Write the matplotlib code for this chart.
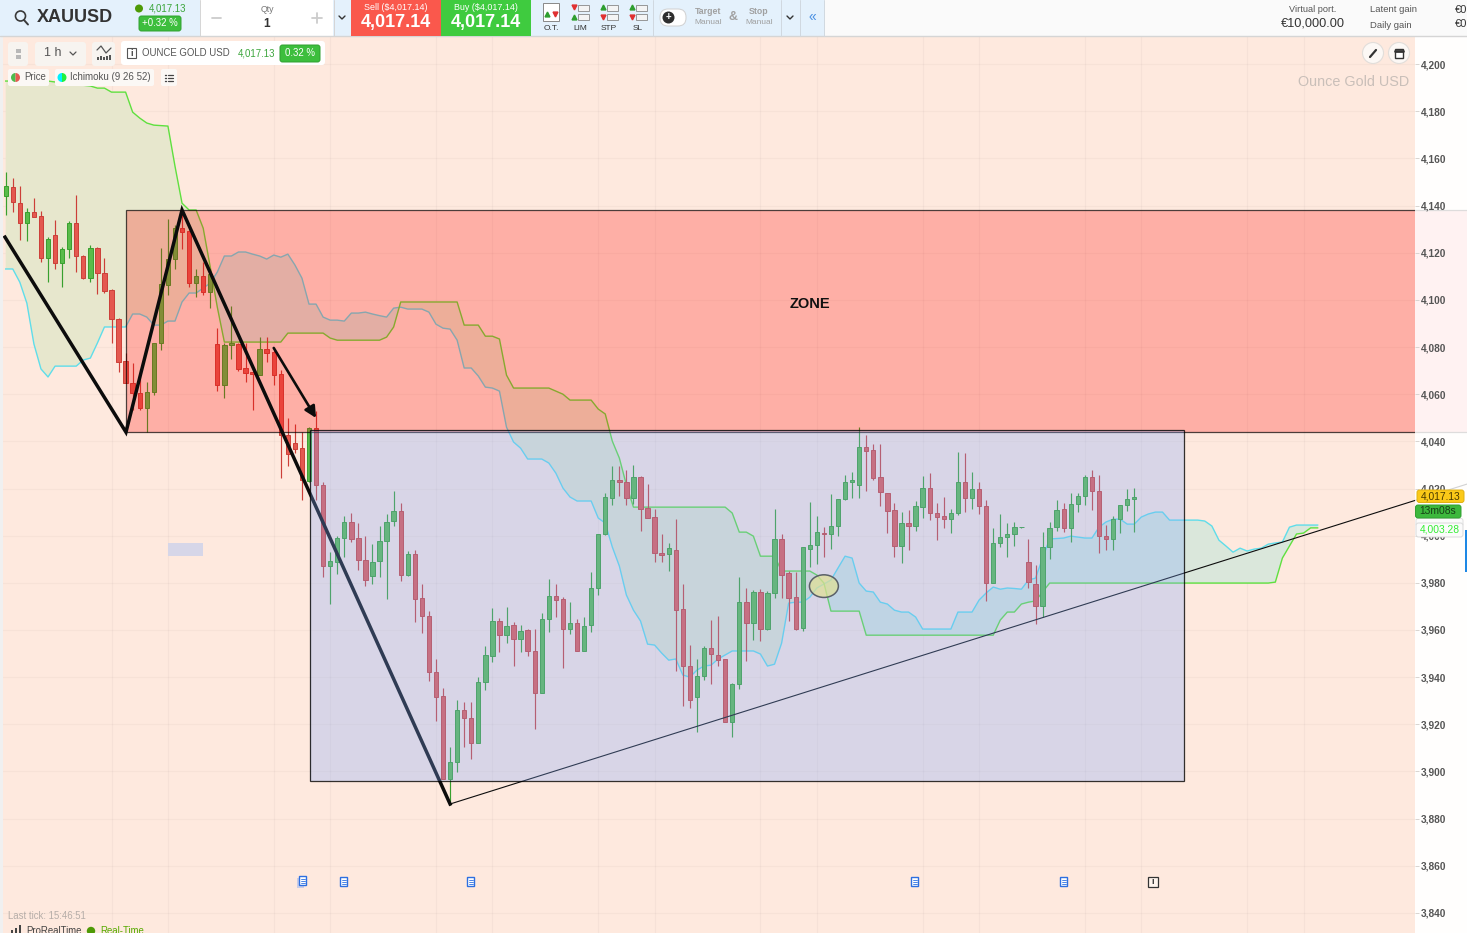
import matplotlib
matplotlib.use("Agg")
import matplotlib.pyplot as plt
from matplotlib.patches import Rectangle, Ellipse, FancyBboxPatch, Circle, Wedge
from matplotlib.ticker import FuncFormatter

plt.rcParams['font.family'] = ['Liberation Sans', 'DejaVu Sans']

# ---------------- data (USD per ounce, one entry per hourly bar) ----------------
opens = [4144.2,4148,4141.2,4132.4,4137.4,4135.5,4117.9,4127.3,4115.5,4121.4,
 4132.4,4118.6,4109.1,4121.8,4111.2,4104.1,4091.9,4074,4064.8,4060.6,
 4054,4061,4081.5,4106.3,4117.2,4130.3,4129.2,4107,4110.1,4103.2,
 4081.2,4064.1,4080.7,4081.2,4070.9,4069.2,4068.1,4079,4077.9,4068.4,
 4042.6,4039.1,4037,4023.3,4045.5,4021.7,3987.2,3988.9,3998.8,4005.9,
 3999.2,3989.5,3982.8,3989.2,3997.8,4006.3,4010.5,3983.4,3992.2,3973.4,
 3965.9,3942,3932,3896.7,3904.1,3925.9,3922.8,3912.2,3938,3949,
 3964,3957.8,3962.2,3956.3,3959.8,3950.9,3933.4,3964.5,3974.6,3973.2,
 3960.5,3962.8,3951.3,3962.1,3977.6,4000.6,4016.1,4023.6,4022.8,4016.1,
 4024.7,4011.8,4007.9,3992.7,3992.2,3994.1,3969.1,3944.8,3931.7,3940.6,
 3952.2,3949.6,3947.5,3921.1,3937.3,3972,3962.8,3976.2,3960.4,3975.8,
 3998.4,3984,3973.8,3960.9,3994.4,3996,4001.2,4000.5,4004,4015.4,
 4022.7,4021.7,4037.4,4036.3,4024.7,4018.3,4010.7,3995.6,4005.3,4004.2,
 4012.2,4020.4,4009.8,4008.3,4007,4009.7,4022.6,4015.8,4020,4012.4,
 3980,3997.1,3999.4,4000.5,4003.6,3988.9,3979.7,3970.1,3995.3,4003.5,
 4011.1,4003.3,4013.6,4017,4024.7,4019,4000,3998.4,4007,4012.8,4015.5]
highs = [4154.4,4151.5,4148.5,4138.8,4143,4137.8,4126.5,4133.8,4122.5,4133.6,
 4144.5,4119,4123.2,4122.3,4117.6,4104.4,4092.1,4077.3,4073.3,4070.5,
 4065.3,4081.5,4121.8,4134.5,4131.7,4138,4129.6,4113.3,4116.2,4113.3,
 4088.2,4081.5,4097.4,4081.8,4081.8,4069.2,4084.4,4084.4,4078.7,4070.2,
 4049.7,4047.3,4044,4046.2,4053,4022.8,3993.2,4000,4008.3,4009.8,
 4005.2,4000,3996.3,4004.2,4009.4,4019,4013.7,3993.6,3993.9,3979.7,
 3968.1,3947.9,3935.5,3910.2,3930.5,3929.3,3929.3,3939.9,3953.3,3969.4,
 3964.9,3969.8,3963.5,3962,3960.6,3960.6,3967.4,3981.6,3979.4,3974.1,
 3971.7,3964.5,3965.6,3984.4,4000.6,4017.9,4029.5,4029.5,4027.8,4029.9,
 4025.2,4022.1,4011.5,4000.6,3997.1,4006.9,3979.4,3953.6,3947.9,3953.3,
 3964.2,3966,3947.9,3937.7,3982.3,3977.9,3976.9,3977.2,3976.6,4011.5,
 4000.6,3985.1,3984.7,3995,4014.4,4008.3,4003.8,4017.5,4015.5,4025.7,
 4026.8,4045.9,4042.6,4038.8,4038.8,4018.3,4013.7,4010.1,4010.8,4014.6,
 4025.2,4026.4,4013.7,4016.2,4011.1,4035.3,4035.1,4026.8,4022.6,4015.1,
 4003.1,4009.4,4005.2,4005.9,4003.8,3998.4,3987.5,4001.4,4005.9,4015.1,
 4013.9,4017.9,4018.3,4025.7,4027.8,4025.7,4004.5,4008.3,4012.8,4020,4020.4]
lows = [4136,4137.1,4125.4,4125.1,4135.3,4116.2,4107.4,4113.3,4105.6,4117.9,
 4111.9,4108.8,4107.4,4102.4,4102.7,4081.5,4069.2,4064.8,4053.2,4053.2,
 4044,4059.6,4078.7,4102,4113,4121.4,4105.6,4101.3,4102,4096.4,
 4061.5,4058.2,4074.9,4069.9,4065,4053.5,4068,4073.5,4063.9,4024.3,
 4029.5,4034.9,4015,4022.9,4015,3982.6,3971.2,3983.7,3990.8,3997.4,
 3985.4,3978.7,3979.7,3982.6,3973.1,4004.3,3980.6,3982.8,3963.5,3958.8,
 3938.3,3921.5,3896.6,3885.7,3899.9,3910.5,3905.1,3912.2,3934.5,3946.5,
 3950.5,3954.6,3944.8,3950.5,3949,3918.2,3933.4,3959,3965.6,3944,
 3958.1,3951.2,3951.2,3959.2,3974.8,4000.2,4013.1,4016.8,4012.9,4013.4,
 4002.1,4007.6,3988.9,3988.9,3985.1,3942.7,3927.7,3927.1,3916.8,3939,
 3937.3,3944.8,3921.1,3914.7,3934.8,3947,3955.7,3955.4,3959.9,3973.4,
 3973.4,3963.9,3960.2,3959.7,3986.8,3987.9,3991,3994.3,4000,4015.1,
 4016.1,4016.1,4018.9,4023.8,4012.7,4001.2,3991,3988.6,3993.9,4001.9,
 4007.3,4006.6,3998.1,4003.1,4001.2,4008.7,4010.1,4011.5,4009.4,3972.4,
 3980,3995.3,3991,3995.6,4003.4,3977.6,3962.5,3965.6,3989.9,4002,
 4001.6,3997.4,4010.1,4013,4010.8,3992.7,3993.9,3993.9,4001.2,4010.4,4001.6]
closes = [4148.3,4141.5,4132.7,4137.4,4135.3,4117.9,4125.6,4115.5,4121.4,4132.4,
 4118.6,4109.1,4121.8,4111.2,4103.9,4091.9,4073.8,4064.8,4060.6,4054,
 4061,4081.5,4106.6,4117.2,4130.3,4128.9,4107,4110.1,4103.2,4110.8,
 4064.1,4080.8,4081.8,4070.6,4068.8,4068.7,4079,4077.6,4068.1,4042.9,
 4034.6,4036.9,4023.6,4045.5,4021.7,3987.2,3989.2,3998.8,4005.9,3998.7,
 3989.6,3981.1,3989,3997.8,4005.9,4010.5,3983.5,3992.2,3973.1,3965.9,
 3942,3931.4,3896.7,3904.1,3925.9,3922.8,3912.2,3938,3949.2,3964,
 3957.8,3961.8,3956,3959.5,3950.9,3933.4,3964.5,3974.6,3972.9,3960.5,
 3962.8,3951.2,3961.8,3977.6,4000.6,4016.2,4023.6,4022.6,4016.1,4025,
 4011.5,4007.7,3992.5,3991.9,3994.6,3968.4,3944.7,3930.5,3940.6,3952.2,
 3949.9,3947.2,3921.1,3937.3,3972,3962.8,3976.2,3960.4,3975.8,3998.4,
 3983.5,3973.6,3960.6,3995,3996.1,4001.4,4000.8,4004,4015.5,4022.8,
 4023.8,4037.4,4036,4024.5,4018.6,4010.5,3995.6,4005.2,4004.2,4012.4,
 4020.4,4009.7,4008,4007,4009.8,4022.6,4015.8,4020,4012.4,3980,
 3997.1,3999.5,4000.6,4003.8,4003.6,3980.2,3970.1,3995.3,4003.3,4010.7,
 4003.3,4013.6,4017,4024.7,4019,3999.8,3998.4,4007,4012.8,4015.5,4016.6]

span_a = ([4113.1,4113.1,4107.5,4098.6,4081.3,4070.7,4067.3] + [4071.9]*4 + [4074.5,4075.3,4081.7] + [4088.5]*4 +
 [4094,4094,4092.7,4089.3,4089.3,4091,4091,4099.1,4102.9,4102.9,4105,4107.1,4111.8,4118.6,4118.6,4120.3,4120.3,
  4119.4,4118.6,4117.3,4119,4118.1,4119.4,4114.8,4109.2,4098.2,4098.2,4092.7,4091.4,4091.4,4091,4094.4,4094.4,
  4094.8,4094,4093.3,4092.7,4096.5,4096.9] + [4096.1]*3 + [4094.8,4089.7,4088,4087.6,4082.9,4071.1,4071.1,4067.7,
  4063,4062.6,4061.3,4046,4039.7,4037.1] + [4032.5]*3 + [4030.8,4026.5,4020.2,4016.4] + [4014.7]*3 +
 [4007.5,4005.3,3995.2,3987.1,3974.8,3968.4,3963.8,3954,3953.6,3950.2,3947.2,3947.7,3940.9,3940,3943,3944.7,3945.1,
  3947.7,3949.4] + [3951.1]*4 + [3949.8,3944.7,3945.5,3954.4,3971.4,3971.8,3971.8,3973.9,3977.8,3979.5,3981.2,3986.3,
  3991.3,3990.5,3979.9,3976.5,3976.1,3971.8,3971,3968.4,3967.6,3967.6,3965.5] + [3960.4]*5 + [3967.6]*3 +
 [3972.7,3975.7,3978.2,3977.3,3977.8,3977.6,3977.3,3981.2,3982,3990.5,3998.6,3998.8,3999,3999.8,3999.4,3999,3999,
  4003.6,4005.8,4007,4007,4004.9,4004.9,4007.9,4009.2,4010,4010] + [4006.6]*5 + [4006.2,4004.1,3998.1,3995.6,3993,
  3994.7,3993.5,3994.3,3994.7,3996.4,3996.9,3997.3,4003.6] + [4004.5]*4)

span_b = ([4192.8]*7 + [4192.4,4192,4191.5,4191.2,4191,4190.7,4189.8,4189.8] + [4188.1]*3 +
 [4179.6,4177.1,4175,4174.1,4173.9,4173.7,4156.7,4141,4138.1,4138.1,4130.4,4113.9,4096.9] + [4082.1]*9 +
 [4085.9]*6 + [4083.8] + [4082.9]*7 + [4084.2,4088.5] + [4099.1]*9 + [4089.3]*3 + [4084.6,4084.6,4083.4,4068.1] +
 [4062.6]*6 + [4061.3,4060] + [4057.5]*4 + [4053.7,4051.6,4040.1,4032.9,4021.5] + [4012.1]*14 +
 [4009.6,4001.5,4001.5,3999.8] + [3991.3]*3 + [3985]*5 + [3983.3,3979.9] + [3968]*5 + [3957.8]*19 +
 [3964.2,3967.6,3967.6,3971,3971.8,3972.3,3976.1] + [3979.9]*32 + [3980.3,3990.5,3995.6,4000.7,4001.1,4003.3,4003.3])

price_ticks = list(range(3840, 4201, 20))
grid_bars = [15, 23, 38, 46, 61, 69, 84, 92, 107, 115, 130, 138, 153, 161, 176, 184]

swing_bars = [-0.1, 17.05, 25, 63]
swing_prices = [4126.6, 4043.9, 4138.1, 3886.2]
trend_bars = [63, 207.2]
trend_prices = [3886.2, 4021.9]
arrow_bars = [38, 44]
arrow_prices = [4079.6, 4049.9]
zone_bars = [17.05, 208]
zone_prices = [4043.9, 4138.1]
box_bars = [43.14, 167.04]
box_prices = [3895.9, 4044.8]
marker_bar, marker_price = 116, 3978.6

last_price = "4,017.13"; ask = "4,017.14"; change = "0.32 %"

# ---------------- figure ----------------
W, H = 1467, 933
fig = plt.figure(figsize=(W/100, H/100), dpi=100, facecolor='#FFFAF6')
ax = fig.add_axes([3/W, 0, 1412/W, (H-36)/H])
PEACH = '#FEE9DE'
ax.set_facecolor(PEACH)
ax.set_xlim(-0.383, 199.8)
ax.set_ylim(3831.5, 4211.9)
for s in ax.spines.values():
    s.set_visible(False)
ax.set_xticks([])
ax.yaxis.tick_right()
ax.set_yticks(price_ticks)
ax.yaxis.set_major_formatter(FuncFormatter(lambda v, _: f"{int(v):,}"))
ax.tick_params(axis='y', length=3, width=0.7, color='#D8D4D0', pad=1, labelsize=7.3, labelcolor='#555555')
for lab in ax.get_yticklabels():
    lab.set_fontweight('bold')
ax.yaxis.set_zorder(11)

for b in grid_bars:
    ax.axvline(b, color=(0, 0, 0, 0.03), lw=0.9, zorder=0.5)
for p in price_ticks:
    ax.axhline(p, color=(0, 0, 0, 0.028), lw=0.9, zorder=0.5)

# Ichimoku cloud
cx = list(range(len(span_a)))
ya, yb = span_a, span_b
ax.fill_between(cx, ya, yb, where=[a >= b for a, b in zip(ya, yb)], interpolate=True,
                color='#DAE7DB', lw=0, zorder=1)
ax.fill_between(cx, ya, yb, where=[a <= b for a, b in zip(ya, yb)], interpolate=True,
                color='#E7E7CD', lw=0, zorder=1)
ax.plot(cx, ya, color='#5FDDEA', lw=1.0, zorder=1.5)
ax.plot(cx, yb, color='#5FE03F', lw=1.0, zorder=1.5)

# candles
for i, (o, h, l, c) in enumerate(zip(opens, highs, lows, closes)):
    up = c >= o
    edge = '#38A02E' if up else '#CC3F38'
    fill = '#5ABB4A' if up else '#E4584F'
    ax.vlines(i, l, h, color=edge, lw=0.85, zorder=2)
    ax.add_patch(Rectangle((i-0.31, min(o, c)), 0.62, max(abs(c-o), 0.25),
                           facecolor=fill, edgecolor=edge, lw=0.7, zorder=2.1))

# zone
ax.add_patch(Rectangle((zone_bars[0], zone_prices[0]), zone_bars[1]-zone_bars[0], zone_prices[1]-zone_prices[0],
                       facecolor=(1, 0.02, 0, 0.25), edgecolor=(0, 0, 0, 0.7), lw=0.9, zorder=3, clip_on=False))
ax.text(114, 4098.2, 'ZONE', fontsize=10.5, fontweight='bold', color='#111111', ha='center', va='center', zorder=9)

# hand drawn lines
ax.plot(swing_bars, swing_prices, color='#0C0C0C', lw=2.5, zorder=4, solid_joinstyle='miter')
ax.plot(trend_bars, trend_prices, color='#0C0C0C', lw=0.8, zorder=4, clip_on=False)
ax.annotate('', xy=(arrow_bars[1], arrow_prices[1]), xytext=(arrow_bars[0], arrow_prices[0]),
            arrowprops=dict(arrowstyle='-|>', color='#0C0C0C', lw=1.9, mutation_scale=17, shrinkA=0, shrinkB=0), zorder=4)

# box
ax.add_patch(Rectangle((box_bars[0], box_prices[0]), box_bars[1]-box_bars[0], box_prices[1]-box_prices[0],
                       facecolor=(0.514, 0.667, 0.988, 0.30), edgecolor='none', zorder=5))
ax.add_patch(Rectangle((box_bars[0], box_prices[0]), box_bars[1]-box_bars[0], box_prices[1]-box_prices[0],
                       facecolor='none', edgecolor=(0, 0, 0, 0.8), lw=0.9, zorder=5.1))
ax.add_patch(Ellipse((marker_bar, marker_price), 4.1, 9.6, facecolor=(0.88, 0.88, 0.58, 0.7),
                     edgecolor='#5A6068', lw=1.1, zorder=6))

# translucent price scale strip
ax.add_patch(Rectangle((1, 0), 52/1412, 1, transform=ax.transAxes, facecolor='white', alpha=0.82,
                       edgecolor='none', clip_on=False, zorder=10))

# ---------------- interface chrome ----------------
ui = fig.add_axes([0, 0, 1, 1], zorder=20)
ui.set_xlim(0, W); ui.set_ylim(H, 0); ui.axis('off'); ui.patch.set_visible(False)

def box(x0, y0, x1, y1, color, r=0, ec='none', lw=0, z=1):
    if r:
        ui.add_patch(FancyBboxPatch((x0+r, y0+r), x1-x0-2*r, y1-y0-2*r, boxstyle=f"round,pad={r},rounding_size={r}",
                                    fc=color, ec=ec, lw=lw, zorder=z))
    else:
        ui.add_patch(Rectangle((x0, y0), x1-x0, y1-y0, fc=color, ec=ec, lw=lw, zorder=z))

def t(x, y, s, size=6.5, color='#444444', ha='left', weight='normal', z=3):
    ui.text(x, y, s, fontsize=size, color=color, ha=ha, va='center', fontweight=weight, zorder=z)

def seg(xs, ys, color='#444444', lw=1.0, z=3):
    ui.plot(xs, ys, color=color, lw=lw, zorder=z, solid_capstyle='round')

GREEN = '#3DBE3D'
box(0, 0, W, 36, '#FAFAFA', z=1)
box(0, 0, 824, 36, '#E4F1FC', z=1.1)
seg([0, W], [36, 36], '#D5D5D5', 1.0, z=2)
box(0, 36, 3, H, '#F0F0F0', z=1)

# search + symbol
ui.add_patch(Circle((20.5, 16), 5, fc='none', ec='#3A3A3A', lw=1.2, zorder=3))
seg([24, 28], [20, 24.5], '#3A3A3A', 1.4)
t(37, 17.5, 'XAUUSD', 13, '#333333', weight='bold')
ui.add_patch(Circle((139, 8.5), 4, fc='#4E9A06', ec='none', zorder=3))
t(149, 8.5, last_price, 7.0, '#3BA53B')
box(139, 16, 181, 31, GREEN, r=2.5, ec='#2FA02F', lw=0.7, z=2)
t(160, 23.5, '+' + change, 6.9, 'white', ha='center')

# quantity
box(200, 0, 333, 36, 'white', z=1.2)
seg([200, 200], [0, 36], '#D5D5D5', 0.7, z=2); seg([333.5, 333.5], [0, 36], '#D5D5D5', 0.7, z=2)
t(267, 9.5, 'Qty', 6.3, '#777777', ha='center')
t(267, 24, '1', 8.5, '#333333', ha='center', weight='bold')
seg([212, 221], [18, 18], '#CCCCCC', 1.3); seg([312, 322], [18, 18], '#CCCCCC', 1.3); seg([317, 317], [13, 23], '#CCCCCC', 1.3)
seg([339, 342, 345], [16, 19, 16], '#333333', 1.0)

# sell / buy
box(351, 0, 441, 36, '#FA584C', z=2)
t(396, 8, f'Sell (${ask})', 6.4, 'white', ha='center')
t(396, 22.5, ask, 13, 'white', ha='center', weight='bold')
box(441, 0, 531, 36, '#3FCB3F', z=2)
t(486, 8, f'Buy (${ask})', 6.4, 'white', ha='center')
t(486, 22.5, ask, 13, 'white', ha='center', weight='bold')

# order buttons
for x, lab in zip([551, 580, 609, 638], ['O.T.', 'LIM', 'STP', 'SL']):
    t(x, 28, lab, 6, '#333333', ha='center')
    if lab == 'O.T.':
        box(543, 3, 559, 21, 'white', ec='#888888', lw=0.7, z=2)
        ui.plot([547], [14], marker='^', color='#2E9E2E', ms=3.5, zorder=3)
        ui.plot([555], [14], marker='v', color='#E03030', ms=3.5, zorder=3)
    else:
        box(x-2, 5, x+9, 11, '#F4F4F4', ec='#888888', lw=0.6, z=2)
        box(x-2, 14, x+9, 20, '#F4F4F4', ec='#888888', lw=0.6, z=2)
        up_col, dn_col = ('#E03030', '#2E9E2E') if lab == 'LIM' else ('#2E9E2E', '#E03030')
        ui.plot([x-6], [7], marker='v' if lab == 'LIM' else '^', color=up_col, ms=3.5, zorder=3)
        ui.plot([x-6], [17], marker='^' if lab == 'LIM' else 'v', color=dn_col, ms=3.5, zorder=3)
seg([653, 653], [0, 36], '#D0D8E0', 0.7, z=2)

# target / stop
box(660, 9, 686, 26, 'white', r=8, ec='#D0D0D0', lw=0.7, z=2)
ui.add_patch(Circle((668.5, 17.5), 6, fc='#2E2E2E', ec='none', zorder=3))
t(668.5, 17.3, '+', 7, 'white', ha='center', weight='bold', z=4)
t(708, 12, 'Target', 6.3, '#A0A0A0', ha='center', weight='bold')
t(708, 22, 'Manual', 6, '#A0A0A0', ha='center')
t(733, 17, '&', 9, '#A0A0A0', ha='center', weight='bold')
t(759, 12, 'Stop', 6.3, '#A0A0A0', ha='center', weight='bold')
t(759, 22, 'Manual', 6, '#A0A0A0', ha='center')
seg([780.5, 780.5], [0, 36], '#D0D8E0', 0.7, z=2); seg([799.5, 799.5], [0, 36], '#D0D8E0', 0.7, z=2)
seg([787, 790, 793], [16, 19, 16], '#333333', 1.0)
t(812, 17, '\u00ab', 10, '#4A90E2', ha='center')
seg([823.5, 823.5], [0, 36], '#D0D8E0', 0.7, z=2)

# account
t(1313, 10, 'Virtual port.', 6.6, '#555555', ha='center')
t(1313, 23, '\u20ac10,000.00', 9.2, '#333333', ha='center')
t(1370, 10, 'Latent gain', 6.8, '#555555')
t(1370, 25, 'Daily gain', 6.8, '#555555')
t(1455, 10, '\u20ac0', 8, '#333333')
t(1455, 24, '\u20ac0', 8, '#333333')

# chart toolbar
box(8, 42, 28, 66, '#F7F4F0', r=3, z=2)
box(16, 49, 21, 53, '#B8B8B8', z=3); box(16, 55, 21, 59, '#B8B8B8', z=3)
box(35, 42, 86, 66, '#F7F4F0', r=3, z=2)
t(44, 53.5, '1 h', 9, '#555555')
seg([70, 73, 76], [52, 55, 52], '#555555', 0.9)
box(92, 42, 115, 66, '#F7F4F0', r=3, z=2)
seg([97, 101, 106, 111], [50, 46, 53, 48], '#555555', 0.9)
for bx, bh in zip([97, 100, 103, 106, 109], [3, 4, 3, 4, 5]):
    box(bx, 60-bh, bx+2, 60, '#555555', z=3)
box(121, 41, 325, 65, 'white', r=3, z=2)
box(127, 48, 136, 58, 'white', ec='#555555', lw=0.8, z=3)
t(131.5, 53, 'i', 6.5, '#444444', ha='center', weight='bold')
t(142, 53, 'OUNCE GOLD USD', 6.95, '#555555')
t(238, 53, last_price, 6.95, '#3BA53B')
box(280, 45, 320, 62, GREEN, r=2.5, ec='#2FA02F', lw=0.7, z=3)
t(300, 53, change, 6.9, 'white', ha='center', z=4)

# legend chips
box(8, 69, 49, 86, '#FBF8F5', r=2, z=2)
ui.add_patch(Wedge((15.5, 77.5), 4.5, 90, 270, fc='#4DBB4D', ec='none', zorder=3))
ui.add_patch(Wedge((15.5, 77.5), 4.5, 270, 90, fc='#E45A50', ec='none', zorder=3))
t(24, 77.5, 'Price', 6.9, '#555555')
box(55, 69, 154, 86, '#FBF8F5', r=2, z=2)
ui.add_patch(Wedge((62, 77.5), 4.5, 90, 270, fc='#00F0FF', ec='none', zorder=3))
ui.add_patch(Wedge((62, 77.5), 4.5, 270, 90, fc='#22F040', ec='none', zorder=3))
t(70, 77.5, 'Ichimoku (9 26 52)', 7.0, '#555555')
box(161, 69, 177, 86, '#FBF8F5', r=2, z=2)
for yy in [74.5, 77.5, 80.5]:
    seg([165, 166], [yy, yy], '#444444', 1.0); seg([168, 173], [yy, yy], '#444444', 0.9)

# top-right chart controls
for cx_ in [1373, 1399]:
    ui.add_patch(Circle((cx_, 53), 10.5, fc='#FCF8F5', ec='#E2DEDA', lw=0.8, zorder=3))
seg([1370, 1376], [57, 50], '#333333', 1.6, z=4)
box(1395, 48.5, 1403, 58, 'white', ec='#333333', lw=1.0, z=4)
seg([1395, 1403], [50.5, 50.5], '#333333', 2.0, z=5)
t(1409, 81.5, 'Ounce Gold USD', 10.4, '#C9BFB9', ha='right')

# small annotation block
box(168, 543, 203, 556, '#D6D6E8', z=2)

# document markers
def doc(x, y, col='#2D6FE0'):
    box(x-3.5, y-4.5, x+3.5, y+4.5, 'white', ec=col, lw=1.0, z=3)
    for d in [-1.5, 0.5, 2.5]:
        seg([x-2, x+2], [y+d, y+d], col, 0.6, z=4)
box(296.5, 878, 304, 888, '#C8CCE8', z=2.5)
for dx, dy in [(302.5, 880.5), (343.7, 881.7), (470.7, 881.7), (914.7, 881.7), (1063.7, 881.7)]:
    doc(dx, dy)
box(1147.5, 877, 1157.5, 887, '#FFF5EE', ec='#333333', lw=0.9, z=3)
t(1152.5, 882, 'i', 6.5, '#333333', ha='center', weight='bold')

# footer
t(8, 916, 'Last tick: 15:46:51', 6.9, '#B5ADA8')
for bx, bh in zip([11, 15, 19], [3, 5, 8]):
    box(bx, 933-bh, bx+2, 933, '#444444', z=3)
t(26, 931.5, 'ProRealTime', 6.9, '#444444')
ui.add_patch(Circle((91, 931), 4.2, fc='#4E9A06', ec='none', zorder=3))
t(100, 930.5, 'Real-Time', 6.9, '#55AA00')

# price tags
box(1417, 490, 1464, 502.5, '#FBC918', r=2.5, ec='#E0B010', lw=0.7, z=4)
t(1440.5, 496.3, last_price, 7.4, '#4A3A00', ha='center', z=5)
box(1415.5, 505, 1461, 518, '#3DB83D', r=2.5, ec='#2FA02F', lw=0.7, z=4)
t(1438, 511.5, '13m08s', 7.4, '#173F17', ha='center', z=5)
box(1416, 518.5, 1463, 526, '#FBFBFB', r=2, ec='#DADADA', lw=0.6, z=3.5)
box(1416, 523, 1463, 537, '#FBFBFB', r=2.5, ec='#DADADA', lw=0.7, z=4)
t(1439.5, 530, '4,003.28', 7.4, '#33EE33', ha='center', z=5)
box(1465, 530, 1467, 572, '#1E88E5', z=4)

fig.savefig('out.png', dpi=100)
